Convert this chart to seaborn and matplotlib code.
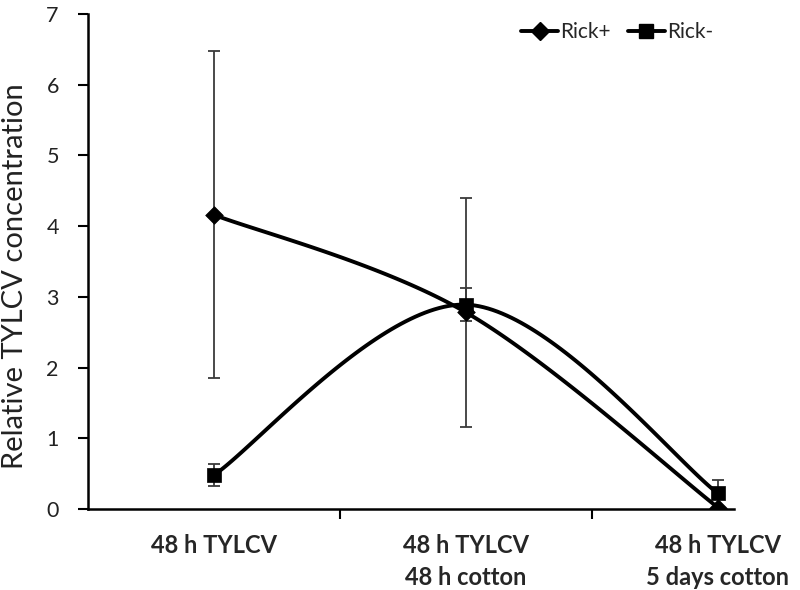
import numpy as np
import pandas as pd
import matplotlib
matplotlib.use('Agg')
import matplotlib.pyplot as plt
from matplotlib.lines import Line2D
import seaborn as sns

# Data
categories = ['48 h TYLCV', '48 h TYLCV\n48 h cotton', '48 h TYLCV\n5 days cotton']
rick_pos = [4.16, 2.78, 0.02]
rick_pos_err = [2.31, 1.62, 0.0]
rick_neg = [0.48, 2.89, 0.22]
rick_neg_err = [0.15, 0.23, 0.19]
y_ticks = [0, 1, 2, 3, 4, 5, 6, 7]


def smooth_curve(xs, ys, n=60):
    """Excel-like smoothed line: Catmull-Rom through the points as cubic Beziers."""
    pts = np.column_stack([xs, ys]).astype(float)
    out = []
    for i in range(len(pts) - 1):
        p0 = pts[i - 1] if i > 0 else pts[i]
        p1, p2 = pts[i], pts[i + 1]
        p3 = pts[i + 2] if i + 2 < len(pts) else pts[i + 1]
        c1 = p1 + (p2 - p0) / 6
        c2 = p2 - (p3 - p1) / 6
        t = np.linspace(0, 1, n)[:, None]
        seg = ((1 - t) ** 3) * p1 + 3 * ((1 - t) ** 2) * t * c1 + 3 * (1 - t) * t ** 2 * c2 + t ** 3 * p2
        out.append(seg if i == 0 else seg[1:])
    seg = np.vstack(out)
    return seg[:, 0], seg[:, 1]


sns.set_theme(style="white")
plt.rcParams['font.family'] = ['Lato', 'DejaVu Sans']

fig = plt.figure(figsize=(8, 5.9), dpi=100)
ax = fig.add_axes([88 / 800, 81 / 590, 756 / 800, 495 / 590])

x = np.arange(len(categories))
series = [
    ('Rick+', rick_pos, rick_pos_err, 'D', 9),
    ('Rick-', rick_neg, rick_neg_err, 's', 9.5),
]

handles = []
for name, vals, errs, mk, ms in series:
    ax.errorbar(x, vals, yerr=errs, fmt='none', ecolor='#3a3a3a', elinewidth=1.3,
                capsize=4, capthick=1.3, zorder=2)
    sx, sy = smooth_curve(x, vals)
    sns.lineplot(x=sx, y=sy, sort=False, color='black', linewidth=2.8, ax=ax, zorder=3)
    sns.scatterplot(x=x, y=vals, marker=mk, s=ms ** 2, color='black', edgecolor='black',
                    linewidth=0.5, ax=ax, zorder=4)
    handles.append(Line2D([], [], color='black', lw=2.8, marker=mk, markersize=ms, label=name))

ax.set_xlim(-0.5, 2.5)
ax.set_ylim(0, 7)
ax.set_yticks(y_ticks)
ax.set_xticks(x)
ax.set_xticklabels(categories, fontsize=17, fontweight='bold', linespacing=1.45)
ax.set_xticks([0.5, 1.5], minor=True)
ax.tick_params(axis='x', which='major', length=0, pad=18)
ax.tick_params(axis='x', which='minor', direction='out', length=7, width=1.5, color='black', bottom=True)
ax.tick_params(axis='y', direction='out', length=7, width=1.5, color='black', pad=14,
               labelsize=15.5, left=True, labelcolor='#222222')

for s in ['top', 'right']:
    ax.spines[s].set_visible(False)
for s in ['left', 'bottom']:
    ax.spines[s].set_color('black')
    ax.spines[s].set_linewidth(1.8)
ax.spines['bottom'].set_bounds(-0.5, 2.065)

ax.set_ylabel('Relative TYLCV concentration', fontsize=21, color='#222222')
ax.yaxis.set_label_coords(-0.079, 0.47)

fig.legend(handles=handles, loc='center', bbox_to_anchor=(617 / 800, 1 - 32 / 590), ncol=2,
           frameon=False, fontsize=15, handlelength=1.8, handletextpad=0.1, columnspacing=0.8,
           borderaxespad=0)

fig.savefig('out.png', dpi=100)
